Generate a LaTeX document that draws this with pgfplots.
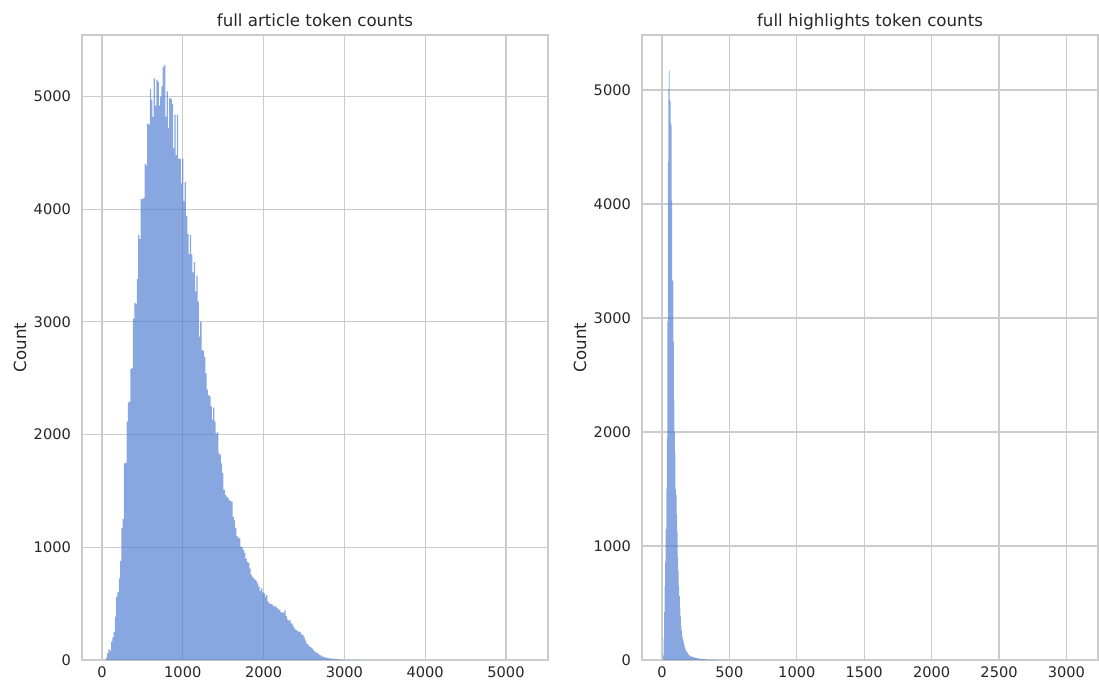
\documentclass[border=0pt]{standalone}
\usepackage{pgfplots}
\pgfplotsset{compat=1.18}
\usepackage{fontspec}
\setmainfont{DejaVu Sans}
\definecolor{barc}{HTML}{4878D0}
\definecolor{gridc}{HTML}{CCCCCC}
\definecolor{txt}{HTML}{262626}
\pgfplotsset{
  sbstyle/.style={
    scale only axis,
    anchor=south west,
    ymin=0,
    grid=major,
    major grid style={color=gridc, line width=0.8pt},
    axis line style={color=gridc, line width=1.1pt},
    tick style={draw=none},
    /pgf/number format/assume math mode=true,
    /pgf/number format/1000 sep={},
    ticklabel style={font=\fontsize{10.5}{12}\selectfont, text=txt},
    xticklabel style={yshift=-1.5pt},
    yticklabel style={xshift=-4.5pt},
    ytick={0,1000,2000,3000,4000,5000},
    ylabel={Count},
    label style={font=\fontsize{12}{14}\selectfont, text=txt},
    title style={font=\fontsize{12}{14}\selectfont, text=txt, at={(axis description cs:0.5,1)}, anchor=base, yshift=0pt},
  }
}
\begin{document}
\begin{tikzpicture}
\begin{axis}[sbstyle,
  at={(59.04pt,17.28pt)},
  width=335.52pt, height=450pt,
  xmin=-247, xmax=5520, ymax=5546,
  xtick={0,1000,2000,3000,4000,5000},
  title={full article token counts},
  ylabel style={at={(axis description cs:-0.133,0.5)}, anchor=center},
]
\addplot[ybar interval, fill=barc, fill opacity=0.65, draw=none] table {
48 20
64 60
80 95
96 83
112 163
128 200
144 250
160 385
176 560
192 600
208 725
224 880
240 1170
256 1250
272 1745
288 1750
304 2115
320 2285
336 2290
352 2580
368 2590
384 3030
400 3170
416 3160
432 3380
448 3770
464 3735
480 4090
496 4090
512 4100
528 4400
544 4390
560 4760
576 4750
592 5065
608 4970
624 4820
640 5160
656 4920
672 5150
688 5130
704 4920
720 5000
736 5090
752 5260
768 5280
784 4820
800 5045
816 4720
832 4985
848 4980
864 4935
880 4540
896 4840
912 4480
928 4840
944 4450
960 4445
976 4230
992 4450
1008 4070
1024 4240
1040 3940
1056 3780
1072 3600
1088 3770
1104 3600
1120 3440
1136 3530
1152 3270
1168 3410
1184 3180
1200 2870
1216 3000
1232 2750
1248 2740
1264 2690
1280 2545
1296 2400
1312 2350
1328 2340
1344 2250
1360 2130
1376 2240
1392 2115
1408 2010
1424 2020
1440 1835
1456 1820
1472 1745
1488 1660
1504 1510
1520 1465
1536 1450
1552 1440
1568 1420
1584 1410
1600 1405
1616 1270
1632 1240
1648 1170
1664 1100
1680 1085
1696 1080
1712 1005
1728 1000
1744 975
1760 950
1776 900
1792 870
1808 860
1824 814
1840 755
1856 740
1872 725
1888 710
1904 700
1920 680
1936 651
1952 612
1968 636
1984 600
2000 592
2016 562
2032 577
2048 520
2064 503
2080 497
2096 495
2112 480
2128 473
2144 479
2160 460
2176 444
2192 450
2208 425
2224 420
2240 420
2256 440
2272 390
2288 360
2304 350
2320 355
2336 325
2352 315
2368 290
2384 272
2400 266
2416 255
2432 251
2448 245
2464 228
2480 222
2496 200
2512 175
2528 148
2544 133
2560 120
2576 115
2592 105
2608 89
2624 76
2640 68
2656 62
2672 57
2688 45
2704 38
2720 32
2736 28
2752 24
2768 21
2784 17
2800 15
2816 14
2832 12
2848 10
2864 9
2880 8
2896 7
2912 6
2928 5
2944 4
2960 3
2976 3
2992 2
3008 2
3024 1
3040 1
3200 0
};
\end{axis}
\begin{axis}[sbstyle,
  at={(462.24pt,17.28pt)},
  width=328.32pt, height=450pt,
  xmin=-148, xmax=3234, ymax=5482,
  xtick={0,500,1000,1500,2000,2500,3000},
  title={full highlights token counts},
  ylabel style={at={(axis description cs:-0.136,0.5)}, anchor=center},
]
\addplot[ybar interval, fill=barc, fill opacity=0.65, draw=none] table {
4 5
8 40
12 190
16 420
20 650
24 860
28 1150
32 1500
36 1950
40 2970
44 4370
48 5000
52 5170
56 4910
60 4900
64 4710
68 4690
72 4030
76 3330
80 3320
84 2790
88 2270
92 2000
96 1820
100 1500
104 1450
108 1280
112 1120
116 900
120 780
124 650
128 560
132 450
136 380
140 300
144 260
148 220
152 190
156 170
160 150
164 130
168 110
172 100
176 85
180 75
184 68
188 60
192 55
196 50
200 40
210 32
220 28
230 25
240 20
250 17
260 14
270 12
280 10
290 8
300 7
320 5
340 4
360 3
380 3
400 2
450 1
500 0
};
\end{axis}
\pgfresetboundingbox
\useasboundingbox (0,0) rectangle (791.28pt,492.48pt);
\end{tikzpicture}
\end{document}
